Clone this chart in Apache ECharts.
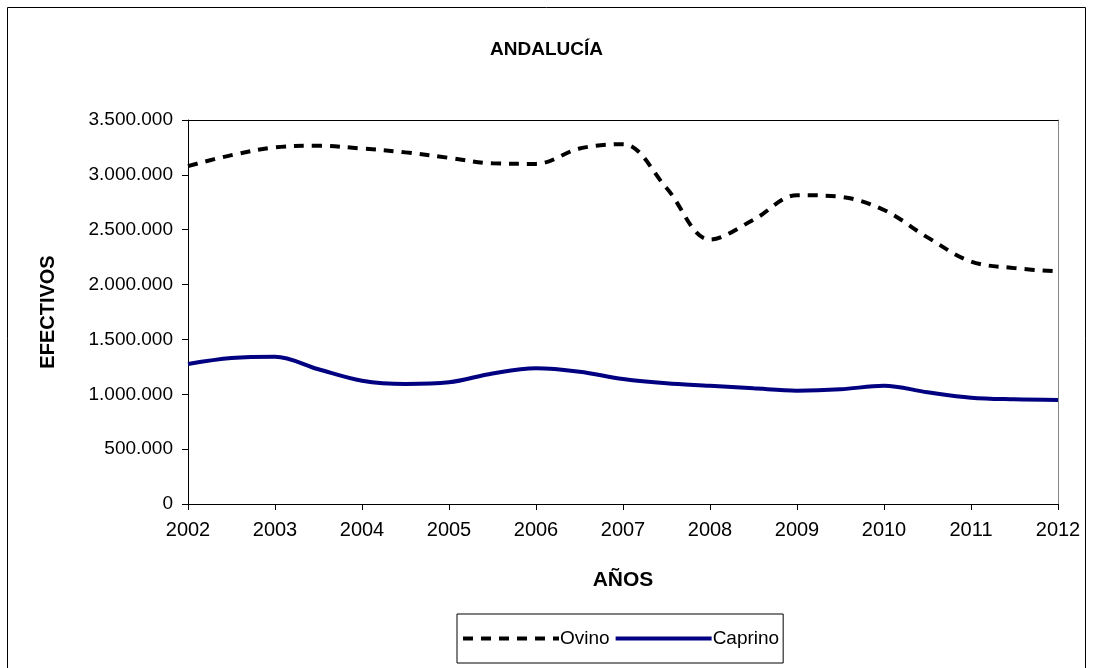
<!DOCTYPE html>
<html>
<head>
<meta charset="utf-8">
<script src="https://cdn.jsdelivr.net/npm/echarts@6/dist/echarts.min.js"></script>
<style>
html,body{margin:0;padding:0;background:#fff;}
#chart{width:1093px;height:668px;}
</style>
</head>
<body>
<div id="chart"></div>
<script>
// Half-year sampling points (years)
const periods = [2002, 2002.5, 2003, 2003.5, 2004, 2004.5, 2005, 2005.5, 2006, 2006.5, 2007,
                 2007.5, 2008, 2008.5, 2009, 2009.5, 2010, 2010.5, 2011, 2011.5, 2012];
const ovino = [3080000, 3180000, 3250000, 3265000, 3240000, 3205000, 3155000, 3105000, 3100000, 3240000, 3280000,
               2880000, 2410000, 2590000, 2815000, 2800000, 2680000, 2430000, 2210000, 2150000, 2120000];
const caprino = [1276000, 1330000, 1343000, 1228000, 1124000, 1094000, 1109000, 1190000, 1237000, 1206000, 1140000,
                 1100000, 1078000, 1054000, 1033000, 1045000, 1078000, 1018000, 969000, 954000, 948000];
const yearTicks = [2002, 2003, 2004, 2005, 2006, 2007, 2008, 2009, 2010, 2011, 2012];

function fmt(v){ return String(Math.round(v)).replace(/\B(?=(\d{3})+(?!\d))/g, '.'); }

const chart = echarts.init(document.getElementById('chart'));
const font = 'Liberation Sans, Arial, sans-serif';
chart.setOption({
  backgroundColor: '#fff',
  animation: false,
  title: {
    text: 'ANDALUCÍA', left: 'center', top: 35,
    textStyle: {fontFamily: font, fontSize: 19, fontWeight: 'bold', color: '#000'}
  },
  legend: {
    top: 614, left: 457,
    data: ['Ovino', 'Caprino'],
    itemWidth: 96, itemHeight: 14, itemGap: 4,
    itemStyle: {opacity: 0},
    lineStyle: {width: 4},
    padding: [15, 4, 15, 4],
    borderColor: '#000', borderWidth: 1,
    textStyle: {fontFamily: font, fontSize: 19, color: '#000', padding: [0, 0, 0, -4]}
  },
  grid: {left: 188, top: 120, right: 35, bottom: 164},
  xAxis: [{
    type: 'value', min: 2002, max: 2012, interval: 1,
    name: 'AÑOS', nameLocation: 'middle', nameGap: 66,
    nameTextStyle: {fontFamily: font, fontSize: 21, fontWeight: 'bold', color: '#000'},
    axisLine: {lineStyle: {color: '#000', width: 1}},
    axisTick: {length: 6, lineStyle: {color: '#000'}},
    splitLine: {show: false},
    axisLabel: {fontFamily: font, fontSize: 20, color: '#000', margin: 16,
      formatter: v => yearTicks.includes(v) ? String(v) : ''}
  }, {
    type: 'value', min: 2002, max: 2012, position: 'top',
    axisLine: {show: true, onZero: false, lineStyle: {color: '#000'}},
    axisTick: {show: false}, axisLabel: {show: false}, splitLine: {show: false}
  }],
  yAxis: [{
    type: 'value', min: 0, max: 3500000, interval: 500000,
    name: 'EFECTIVOS', nameLocation: 'middle', nameGap: 130, nameRotate: 90,
    nameTextStyle: {fontFamily: font, fontSize: 20, fontWeight: 'bold', color: '#000'},
    axisLine: {show: true, lineStyle: {color: '#000'}},
    axisTick: {show: true, length: 6, lineStyle: {color: '#000'}},
    splitLine: {show: false},
    axisLabel: {fontFamily: font, fontSize: 19, color: '#000', margin: 15, formatter: fmt}
  }, {
    type: 'value', min: 0, max: 3500000, position: 'right',
    axisLine: {show: true, onZero: false, lineStyle: {color: '#888'}},
    axisTick: {show: false}, axisLabel: {show: false}, splitLine: {show: false}
  }],
  graphic: [{
    type: 'rect', shape: {x: 7.5, y: 7.5, width: 1078, height: 670},
    style: {fill: 'none', stroke: '#000', lineWidth: 1}, silent: true
  }],
  series: [{
    name: 'Ovino', type: 'line', smooth: 0.35, symbol: 'none',
    data: periods.map((p, i) => [p, ovino[i]]),
    lineStyle: {color: '#000', width: 4, type: [10, 8], cap: 'butt'},
    itemStyle: {color: '#000'}
  }, {
    name: 'Caprino', type: 'line', smooth: 0.35, symbol: 'none',
    data: periods.map((p, i) => [p, caprino[i]]),
    lineStyle: {color: '#000080', width: 4},
    itemStyle: {color: '#000080'}
  }]
});
</script>
</body>
</html>
